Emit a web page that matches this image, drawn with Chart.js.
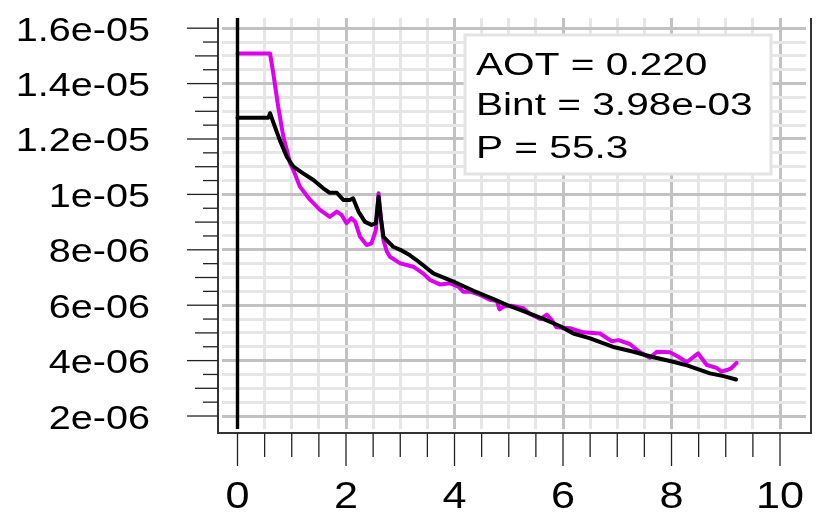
<!DOCTYPE html>
<html>
<head>
<meta charset="utf-8">
<script src="https://cdn.jsdelivr.net/npm/chart.js@4"></script>
<style>
  html, body { margin: 0; padding: 0; background: #fff; }
  #wrap { width: 817px; height: 520px; }
</style>
</head>
<body>
<div id="wrap"><canvas id="chart" width="817" height="520"></canvas></div>
<script>
// magenta curve
const magentaX = [0, 0.6, 0.66, 0.75, 0.845, 0.91, 0.97, 1.03, 1.15, 1.34, 1.52, 1.70, 1.83, 1.92, 2.01, 2.10, 2.17, 2.26, 2.38, 2.47, 2.55, 2.60, 2.64, 2.69, 2.75, 2.81, 3.0, 3.12, 3.24, 3.42, 3.55, 3.73, 3.92, 4.07, 4.16, 4.29, 4.47, 4.65, 4.78, 4.83, 4.90, 5.05, 5.27, 5.39, 5.58, 5.70, 5.79, 5.88, 6.13, 6.37, 6.68, 6.90, 7.02, 7.23, 7.42, 7.60, 7.73, 7.97, 8.16, 8.28, 8.49, 8.65, 8.83, 8.92, 9.02, 9.10, 9.20];
const magentaY = [15.09e-6, 15.09e-6, 14.37e-6, 13.17e-6, 12.08e-6, 11.60e-6, 11.12e-6, 10.88e-6, 10.28e-6, 9.80e-6, 9.44e-6, 9.19e-6, 9.38e-6, 9.26e-6, 8.96e-6, 9.14e-6, 9.01e-6, 8.47e-6, 8.17e-6, 8.23e-6, 8.71e-6, 10.04e-6, 9.19e-6, 8.35e-6, 7.95e-6, 7.75e-6, 7.51e-6, 7.45e-6, 7.39e-6, 7.15e-6, 6.91e-6, 6.75e-6, 6.79e-6, 6.67e-6, 6.49e-6, 6.49e-6, 6.37e-6, 6.20e-6, 6.15e-6, 5.85e-6, 5.95e-6, 5.98e-6, 5.89e-6, 5.68e-6, 5.50e-6, 5.66e-6, 5.47e-6, 5.20e-6, 5.17e-6, 5.02e-6, 4.98e-6, 4.70e-6, 4.74e-6, 4.60e-6, 4.30e-6, 4.10e-6, 4.32e-6, 4.30e-6, 4.10e-6, 3.94e-6, 4.26e-6, 3.84e-6, 3.74e-6, 3.60e-6, 3.66e-6, 3.72e-6, 3.92e-6];
// black curve
const blackX = [0, 0.57, 0.60, 0.69, 0.78, 0.91, 1.03, 1.21, 1.40, 1.58, 1.70, 1.83, 1.95, 2.07, 2.13, 2.23, 2.35, 2.47, 2.55, 2.60, 2.64, 2.69, 2.87, 3.0, 3.18, 3.30, 3.61, 3.98, 4.35, 4.72, 4.96, 5.21, 5.45, 5.70, 5.94, 6.19, 6.50, 6.95, 7.30, 7.63, 8.03, 8.30, 8.71, 8.96, 9.19];
const blackY = [12.77e-6, 12.77e-6, 12.93e-6, 12.44e-6, 11.96e-6, 11.35e-6, 11.0e-6, 10.76e-6, 10.52e-6, 10.22e-6, 10.06e-6, 10.06e-6, 9.80e-6, 9.80e-6, 9.86e-6, 9.38e-6, 9.01e-6, 8.90e-6, 8.96e-6, 9.92e-6, 9.19e-6, 8.47e-6, 8.11e-6, 8.0e-6, 7.80e-6, 7.63e-6, 7.15e-6, 6.85e-6, 6.52e-6, 6.22e-6, 6.01e-6, 5.83e-6, 5.65e-6, 5.45e-6, 5.25e-6, 4.98e-6, 4.80e-6, 4.48e-6, 4.32e-6, 4.14e-6, 3.96e-6, 3.82e-6, 3.54e-6, 3.44e-6, 3.32e-6];
// tick labels
const xTickValues = [0, 2, 4, 6, 8, 10];
const xTickLabels = ['0', '2', '4', '6', '8', '10'];
const yTickValues = [16e-6, 14e-6, 12e-6, 10e-6, 8e-6, 6e-6, 4e-6, 2e-6];
const yTickLabels = ['1.6e-05', '1.4e-05', '1.2e-05', '1e-05', '8e-06', '6e-06', '4e-06', '2e-06'];
// legend text
const infoLines = ['AOT = 0.220', 'Bint = 3.98e-03', 'P = 55.3'];

const FONT = '"Liberation Sans", Arial, sans-serif';
const MAJOR = '#c2c2c2';
const MINOR = '#e6e6e6';

function toPoints(xs, ys) {
  return xs.map((x, i) => ({ x: x, y: ys[i] }));
}

// stretched text, like the reference
function wideText(ctx, text, x, y, size, sx, align) {
  ctx.save();
  ctx.translate(x, y);
  ctx.scale(sx, 1);
  ctx.font = size + 'px ' + FONT;
  ctx.textAlign = align;
  ctx.textBaseline = 'alphabetic';
  ctx.fillStyle = '#000';
  ctx.fillText(text, 0, 0);
  ctx.restore();
}

//draws the frame, ticks, labels and the info box
const framePlugin = {
  id: 'framePlugin',
  afterDatasetsDraw(chart) {
    const { ctx, chartArea, scales } = chart;
    const xs = scales.x, ys = scales.y;
    const boxLeft = chartArea.left - 4, boxRight = chartArea.right + 5, boxBottom = chartArea.bottom + 4;

    // x = 0 line
    ctx.save();
    ctx.strokeStyle = '#000';
    ctx.lineWidth = 3.4;
    const x0 = xs.getPixelForValue(0);
    ctx.beginPath();
    ctx.moveTo(x0, chartArea.top);
    ctx.lineTo(x0, chartArea.bottom);
    ctx.stroke();

    // box (no top side)
    ctx.strokeStyle = '#333';
    ctx.lineWidth = 2;
    ctx.beginPath();
    ctx.moveTo(boxLeft, chartArea.top);
    ctx.lineTo(boxLeft, boxBottom);
    ctx.lineTo(boxRight, boxBottom);
    ctx.lineTo(boxRight, chartArea.top);
    ctx.stroke();

    // ticks
    ctx.strokeStyle = '#222';
    ctx.lineWidth = 1.3;
    xs.ticks.forEach(t => {
      const px = xs.getPixelForValue(t.value);
      const major = Math.abs(t.value / 2 - Math.round(t.value / 2)) < 1e-6;
      ctx.beginPath();
      ctx.moveTo(px, boxBottom);
      ctx.lineTo(px, boxBottom + (major ? 33 : 24));
      ctx.stroke();
    });
    ys.ticks.forEach(t => {
      const py = ys.getPixelForValue(t.value);
      const n = Math.round(t.value / 0.5e-6);
      const len = n % 4 === 0 ? 31 : (n % 2 === 0 ? 23 : 15);
      ctx.beginPath();
      ctx.moveTo(boxLeft, py);
      ctx.lineTo(boxLeft - len, py);
      ctx.stroke();
    });
    ctx.restore();

    // tick labels
    xTickValues.forEach((v, i) => {
      wideText(ctx, xTickLabels[i], xs.getPixelForValue(v), 508, 36, 1.2, 'center');
    });
    yTickValues.forEach((v, i) => {
      wideText(ctx, yTickLabels[i], 150, ys.getPixelForValue(v) + 12.5, 33, 1.2, 'right');
    });

    // info box
    ctx.save();
    ctx.fillStyle = '#fff';
    ctx.fillRect(465, 35, 306, 139);
    ctx.strokeStyle = '#e3e3e3';
    ctx.lineWidth = 3;
    ctx.strokeRect(465, 35, 306, 139);
    ctx.restore();
    const baselines = [75, 115, 158];
    infoLines.forEach((s, i) => wideText(ctx, s, 476, baselines[i], 31, 1.31, 'left'));
  }
};

new Chart(document.getElementById('chart'), {
  type: 'line',
  plugins: [framePlugin],
  data: {
    datasets: [
      {
        data: toPoints(blackX, blackY),
        borderColor: '#000',
        borderWidth: 4,
        borderJoinStyle: 'round',
        borderCapStyle: 'round',
        pointRadius: 0,
        tension: 0,
      },
      {
        data: toPoints(magentaX, magentaY),
        borderColor: 'rgb(221, 0, 238)',
        borderWidth: 4,
        borderJoinStyle: 'round',
        borderCapStyle: 'round',
        pointRadius: 0,
        tension: 0,
      },
    ],
  },
  options: {
    responsive: false,
    animation: false,
    layout: { padding: { left: 222, right: 11, top: 18, bottom: 91 } },
    plugins: {
      legend: { display: false },
      tooltip: { enabled: false },
    },
    scales: {
      x: {
        type: 'linear',
        min: -0.2857,
        max: 10.479,
        ticks: { display: false, stepSize: 0.5, includeBounds: false },
        border: { display: false },
        grid: {
          drawTicks: false,
          lineWidth: 3,
          color: ctx => (Math.abs(ctx.tick.value / 2 - Math.round(ctx.tick.value / 2)) < 1e-6 ? MAJOR : MINOR),
        },
        afterFit: s => { s.height = 0; },
      },
      y: {
        type: 'linear',
        min: 1.531e-6,
        max: 16.368e-6,
        ticks: { display: false, stepSize: 0.5e-6, includeBounds: false },
        border: { display: false },
        grid: {
          drawTicks: false,
          lineWidth: 3,
          color: ctx => (Math.round(ctx.tick.value / 0.5e-6) % 4 === 0 ? MAJOR : MINOR),
        },
        afterFit: s => { s.width = 0; },
      },
    },
  },
});
</script>
</body>
</html>
